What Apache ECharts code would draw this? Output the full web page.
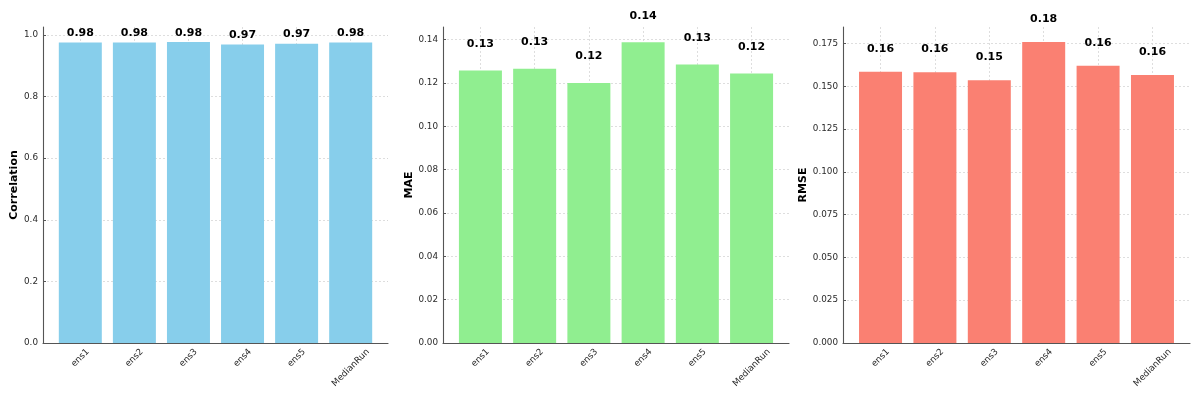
<!DOCTYPE html>
<html><head><meta charset="utf-8">
<script src="https://cdn.jsdelivr.net/npm/echarts@6/dist/echarts.min.js"></script>
<style>html,body{margin:0;padding:0;background:#fff}#c{width:1200px;height:400px}</style>
</head><body><div id="c"></div>
<script>
const categories = ['ens1', 'ens2', 'ens3', 'ens4', 'ens5', 'MedianRun'];
const correlation = [0.976, 0.976, 0.977, 0.969, 0.972, 0.976];
const mae = [0.1257, 0.1265, 0.1200, 0.1388, 0.1285, 0.1243];
const rmse = [0.1584, 0.1582, 0.1535, 0.1758, 0.1619, 0.1566];
const corrTicks = [0, 0.2, 0.4, 0.6, 0.8, 1.0];
const maeTicks = [0, 0.02, 0.04, 0.06, 0.08, 0.10, 0.12, 0.14];
const rmseTicks = [0, 0.025, 0.05, 0.075, 0.1, 0.125, 0.15, 0.175];
const axisNames = ['Correlation', 'MAE', 'RMSE'];
const tickDecimals = [1, 2, 3];
const yMax = [1.026, 0.1458, 0.1846];

const FONT = 'DejaVu Sans';
const TICK_FS = 8.8;

// measure category label widths to mimic centred rotated labels
const cv = document.createElement('canvas').getContext('2d');
cv.font = TICK_FS + 'px "' + FONT + '"';
const widths = categories.map(c => cv.measureText(c).width);
const baseW = Math.min.apply(null, widths);
const rich = {};
categories.forEach((c, i) => {
  const p = Math.max(0, (widths[i] - baseW) / 2);
  rich['l' + i] = { fontSize: TICK_FS, fontFamily: FONT, color: '#2a2a2a', padding: [p, p, 0, 0] };
});

const seriesData = [correlation, mae, rmse];
const yTicks = [corrTicks, maeTicks, rmseTicks];
const colors = ['#87CEEB', '#90EE90', '#FA8072'];
const gridsPx = [
  { left: 43, top: 27, width: 345, height: 316 },
  { left: 443, top: 27, width: 346, height: 316 },
  { left: 843, top: 27, width: 347, height: 316 }
];
const nameGaps = [20, 26, 32];
const labelDist = [3.5, 21, 17.5];
const xIdx = categories.map((c, i) => i);

const axisLineStyle = { color: '#555', width: 1.1 };
const gridLineStyle = { color: '#d6d6d6', type: [2, 2], width: 0.8 };

const option = {
  animation: false,
  backgroundColor: '#fff',
  grid: gridsPx,
  xAxis: gridsPx.map((g, k) => ({
    type: 'value', gridIndex: k, min: -0.69, max: 5.69,
    axisLine: { show: true, lineStyle: axisLineStyle, onZero: false },
    axisTick: { show: true, inside: true, length: 3, customValues: xIdx, lineStyle: { color: '#555' } },
    axisLabel: {
      customValues: xIdx, rotate: 45, align: 'center', verticalAlign: 'middle', margin: 15,
      fontSize: TICK_FS, fontFamily: FONT, color: '#2a2a2a',
      formatter: v => { const i = Math.round(v); return '{l' + i + '|' + categories[i] + '}'; },
      rich: rich
    },
    splitLine: { show: true, lineStyle: gridLineStyle }
  })),
  yAxis: gridsPx.map((g, k) => ({
    type: 'value', gridIndex: k, min: 0, max: yMax[k],
    name: axisNames[k], nameLocation: 'middle', nameGap: nameGaps[k],
    nameTextStyle: { fontSize: 11, fontWeight: 'bold', fontFamily: FONT, color: '#000' },
    axisLine: { show: true, lineStyle: axisLineStyle, onZero: false },
    axisTick: { show: true, inside: true, length: 3, customValues: yTicks[k], lineStyle: { color: '#555' } },
    axisLabel: {
      customValues: yTicks[k], margin: 5, fontSize: TICK_FS, fontFamily: FONT, color: '#2a2a2a',
      formatter: v => Number(v).toFixed(tickDecimals[k])
    },
    splitLine: { show: true, lineStyle: gridLineStyle }
  })),
  series: seriesData.map((arr, k) => ({
    type: 'bar', xAxisIndex: k, yAxisIndex: k, barWidth: 43,
    itemStyle: { color: colors[k] },
    label: {
      show: true, position: 'top', distance: labelDist[k],
      fontSize: 11, fontWeight: 'bold', fontFamily: FONT, color: '#000',
      formatter: p => p.value[1].toFixed(2)
    },
    data: arr.map((v, i) => [i, v])
  }))
};
const chart = echarts.init(document.getElementById('c'), null, { renderer: 'canvas' });
chart.setOption(option);
</script></body></html>
